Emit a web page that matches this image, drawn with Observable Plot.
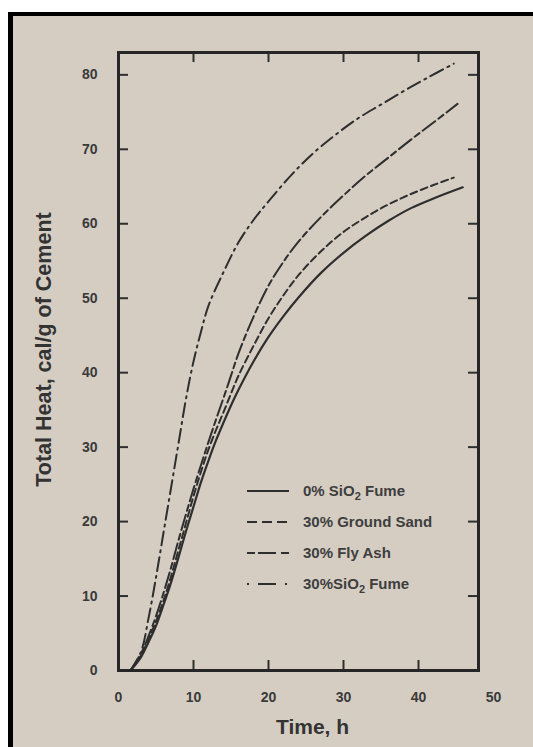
<!DOCTYPE html>
<html>
<head>
<meta charset="utf-8">
<script src="https://cdn.jsdelivr.net/npm/d3@7"></script>
<script src="https://cdn.jsdelivr.net/npm/@observablehq/plot@0.6"></script>
<style>
html, body { margin: 0; padding: 0; background: #fff; }
body { width: 533px; height: 747px; position: relative; overflow: hidden; font-family: "Liberation Sans", Arial, sans-serif; }
#paper { position: absolute; left: 8px; top: 12px; right: 0; bottom: 0; background: #d5cdc2; border-left: 5px solid #000; border-top: 4px solid #000; }
#chart { position: absolute; left: 0; top: 0; }
#legend { position: absolute; left: 245px; top: 475px; }
.row { display: flex; align-items: center; height: 31px; }
.row svg { width: 46px; height: 10px; margin-right: 12px; flex: none; }
.row span { font-size: 15px; font-weight: bold; color: #3e3e3e; white-space: nowrap; }
.row sub { font-size: 11px; vertical-align: -4px; line-height: 0; }
</style>
</head>
<body>
<div id="paper"></div>
<div id="chart"></div>
<div id="legend"></div>
<script>
// ---- data ----
const seriesNames = ["0% SiO₂ Fume", "30% Ground Sand", "30% Fly Ash", "30%SiO₂ Fume"];
const timeTicks = [0, 10, 20, 30, 40, 50];
const heatTicks = [0, 10, 20, 30, 40, 50, 60, 70, 80];
const innerTimeTicks = [10, 20, 30, 40];
const innerHeatTicks = [10, 20, 30, 40, 50, 60, 70, 80];

const plainTime = [1.6, 3, 4, 5, 6, 7, 8, 9, 10, 11, 12, 13, 14, 15, 16, 18, 20, 22, 24, 27, 30, 33, 36, 39, 42, 45.9];
const plainHeat = [0, 1.8, 3.8, 6.0, 8.8, 11.8, 15.2, 18.7, 22.0, 25.3, 28.2, 30.9, 33.3, 35.6, 37.7, 41.5, 44.8, 47.6, 50.1, 53.4, 56.1, 58.4, 60.4, 62.1, 63.4, 64.9];

const sandTime = [1.6, 3, 4, 5, 6, 7, 8, 9, 10, 11, 12, 13, 14, 15, 16, 18, 20, 22, 24, 27, 30, 33, 36, 39, 42, 44.7];
const sandHeat = [0, 2.0, 4.2, 6.6, 9.4, 12.6, 16.2, 19.8, 23.4, 26.7, 29.7, 32.3, 34.7, 37.2, 39.6, 43.6, 47.3, 50.4, 53.1, 56.3, 58.9, 60.9, 62.6, 64.0, 65.2, 66.2];

const ashTime = [1.6, 3, 4, 5, 6, 7, 8, 9, 10, 11, 12, 13, 14, 15, 16, 18, 20, 22, 24, 27, 30, 33, 36, 39, 42, 45.2];
const ashHeat = [0, 2.3, 4.6, 7.3, 10.4, 13.8, 17.5, 21.0, 24.4, 27.6, 30.7, 33.7, 36.6, 39.6, 42.6, 47.5, 51.7, 54.9, 57.6, 60.9, 63.8, 66.5, 68.9, 71.3, 73.6, 76.1];

const fumeTime = [1.6, 3, 4, 5, 6, 7, 8, 9, 10, 11, 12, 14, 16, 18, 20, 23, 26, 29, 32, 35, 38, 41, 44.7];
const fumeHeat = [0, 2.5, 7.0, 12.5, 18.5, 24.5, 30.5, 36.5, 41.5, 45.5, 49.0, 53.5, 57.5, 60.5, 63.0, 66.5, 69.5, 72.0, 74.2, 76.0, 77.8, 79.5, 81.5];

// ---- styles ----
const ink = "#2e2e2e";
const curveDash = [null, "7,4", "16,4,6,4", "14,5,2,5"];
const legendDash = [null, "10,5", "8,3,18,5,8", "2,9,18,9,2"];

const rows = (ts, qs) => ts.map((t, i) => ({ t, q: qs[i] }));
const series = [rows(plainTime, plainHeat), rows(sandTime, sandHeat), rows(ashTime, ashHeat), rows(fumeTime, fumeHeat)];

const W = 533, H = 747;
const mL = 118, mR = 55, mT = 52, mB = 77;
const innerW = W - mL - mR, innerH = H - mT - mB;
const tick = 10;

const chart = Plot.plot({
  width: W,
  height: H,
  marginLeft: mL,
  marginRight: mR,
  marginTop: mT,
  marginBottom: mB,
  style: { background: "transparent", color: "#3a3a3a", fontFamily: "Liberation Sans, Arial, sans-serif", overflow: "visible" },
  x: { domain: [0, 48] },
  y: { domain: [0, 83] },
  marks: [
    ...series.map((d, i) => Plot.line(d, {
      x: "t", y: "q", stroke: ink, strokeWidth: i === 0 ? 2.2 : 2,
      strokeDasharray: curveDash[i], curve: "catmull-rom"
    })),
    Plot.ruleX(innerTimeTicks, { stroke: ink, strokeWidth: 2, insetTop: innerH - tick }),
    Plot.ruleX(innerTimeTicks, { stroke: ink, strokeWidth: 2, insetBottom: innerH - tick }),
    Plot.ruleY(innerHeatTicks, { stroke: ink, strokeWidth: 2, insetRight: innerW - tick }),
    Plot.ruleY(innerHeatTicks, { stroke: ink, strokeWidth: 2, insetLeft: innerW - tick }),
    Plot.frame({ stroke: "#262626", strokeWidth: 3 }),
    Plot.axisX({ ticks: timeTicks, tickSize: 0, tickPadding: 22, fontSize: 14, fontWeight: "bold", label: null }),
    Plot.axisY({ ticks: heatTicks, tickSize: 0, tickPadding: 21, fontSize: 14, fontWeight: "bold", label: null }),
    Plot.text(["Time, h"], { frameAnchor: "bottom", textAnchor: "middle", lineAnchor: "bottom", dx: 14, dy: 63, fontSize: 21, fontWeight: "bold", fill: "#333" }),
    Plot.text(["Total Heat, cal/g of Cement"], { frameAnchor: "left", textAnchor: "middle", rotate: -90, lineAnchor: "bottom", dx: -68, dy: -12, fontSize: 21.5, fontWeight: "bold", fill: "#333" })
  ]
});
document.getElementById("chart").appendChild(chart);

// ---- legend ----
const legend = document.getElementById("legend");
seriesNames.forEach((name, i) => {
  const row = document.createElement("div");
  row.className = "row";
  const dash = legendDash[i] ? ` stroke-dasharray="${legendDash[i]}"` : "";
  row.innerHTML = `<svg viewBox="0 0 46 10"><line x1="2" x2="44" y1="5" y2="5" stroke="${ink}" stroke-width="2"${dash}/></svg>` +
    `<span>${name.replace("₂", "<sub>2</sub>")}</span>`;
  legend.appendChild(row);
});
</script>
</body>
</html>
